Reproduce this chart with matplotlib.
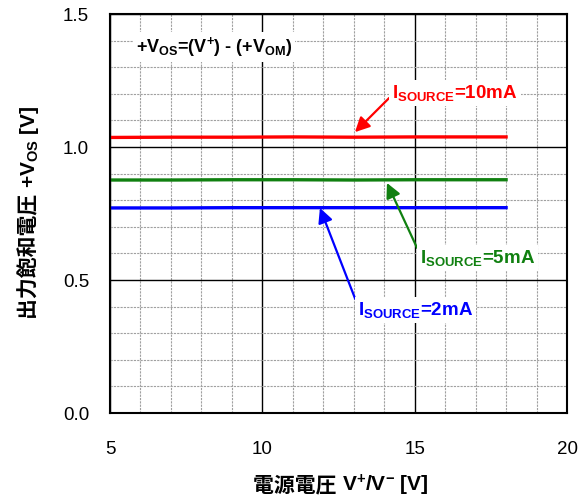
import matplotlib
matplotlib.use("Agg")
import matplotlib.pyplot as plt
from matplotlib.ticker import MultipleLocator

plt.rcParams['font.family'] = ['Liberation Sans', 'Noto Sans CJK JP', 'DejaVu Sans']
plt.rcParams['mathtext.fontset'] = 'custom'
plt.rcParams['mathtext.rm'] = 'Liberation Sans:bold'
plt.rcParams['mathtext.it'] = 'Liberation Sans:bold'
plt.rcParams['mathtext.bf'] = 'Liberation Sans:bold'

# Data
vsupply = [5, 7, 9, 11, 13, 15, 18]
vos_10mA = [1.036, 1.037, 1.037, 1.038, 1.037, 1.038, 1.038]
vos_5mA = [0.876, 0.876, 0.877, 0.877, 0.876, 0.877, 0.877]
vos_2mA = [0.771, 0.771, 0.772, 0.772, 0.772, 0.772, 0.772]

xticks = [5, 10, 15, 20]
yticks = [0.0, 0.5, 1.0, 1.5]

fig = plt.figure(figsize=(5.86, 5.01), dpi=100)
ax = fig.add_axes([0.1877, 0.1756, 0.9676 - 0.1877, 0.972 - 0.1756])

ax.set_xlim(5, 20)
ax.set_ylim(0, 1.5)
ax.set_xticks(xticks)
ax.set_yticks(yticks)
ax.set_xticklabels([str(t) for t in xticks])
ax.set_yticklabels([f"{t:.1f}" for t in yticks])
ax.xaxis.set_minor_locator(MultipleLocator(1))
ax.yaxis.set_minor_locator(MultipleLocator(0.1))
ax.grid(which='minor', color='#a0a0a0', linestyle=(0, (2, 1)), linewidth=0.8)
ax.grid(which='major', color='black', linestyle='-', linewidth=1.0)
ax.set_axisbelow(True)
ax.tick_params(which='both', length=0)
ax.tick_params(axis='x', pad=20, labelsize=13.5)
ax.tick_params(axis='y', pad=15, labelsize=13.5)
for s in ax.spines.values():
    s.set_linewidth(1.5)
    s.set_color('black')

ax.plot(vsupply, vos_10mA, color='#ff0000', lw=2.4)
ax.plot(vsupply, vos_5mA, color='#108010', lw=2.4)
ax.plot(vsupply, vos_2mA, color='#0000ff', lw=2.4)

bbox = dict(facecolor='white', edgecolor='none', pad=2)
ax.text(5.85, 1.376, r'+V$_{OS}$=(V$^{+}$) - (+V$_{OM}$)', fontsize=13,
        fontweight='bold', va='center', ha='left', bbox=bbox)

fs = 13.5
ax.annotate(r'I$_{SOURCE}$=10mA', xy=(13.04, 1.056), xytext=(14.26, 1.203),
            color='#ff0000', fontsize=fs, fontweight='bold', va='center', ha='left',
            bbox=bbox,
            arrowprops=dict(arrowstyle='-|>', color='#ff0000', lw=1.6,
                            mutation_scale=22, shrinkA=0, shrinkB=0,
                            relpos=(0.0, 0.4)))
ax.annotate(r'I$_{SOURCE}$=5mA', xy=(14.09, 0.865), xytext=(15.17, 0.583),
            color='#108010', fontsize=fs, fontweight='bold', va='center', ha='left',
            bbox=bbox,
            arrowprops=dict(arrowstyle='-|>', color='#108010', lw=1.6,
                            mutation_scale=22, shrinkA=0, shrinkB=0,
                            relpos=(0.0, 0.7)))
ax.annotate(r'I$_{SOURCE}$=2mA', xy=(11.89, 0.771), xytext=(13.14, 0.387),
            color='#0000ff', fontsize=fs, fontweight='bold', va='center', ha='left',
            bbox=bbox,
            arrowprops=dict(arrowstyle='-|>', color='#0000ff', lw=1.6,
                            mutation_scale=22, shrinkA=0, shrinkB=0,
                            relpos=(0.0, 0.7)))

# Axis labels: CJK part as plain text, the rest as mathtext, placed side by side
W, H = 586, 501
fig.canvas.draw()
r = fig.canvas.get_renderer()
lfs = 15

# x label
xl1 = fig.text(0, 0, '電源電圧 ', fontsize=lfs, fontweight='bold',
               ha='left', va='baseline')
xl2 = fig.text(0, 0, r'V$^{+}$/V$^{-}$ [V]', fontsize=lfs, fontweight='bold',
               ha='left', va='baseline')
w1 = xl1.get_window_extent(r).width
w2 = xl2.get_window_extent(r).width
cx = 341
x0 = cx - (w1 + w2) / 2
base_y = H - 491
xl1.set_position((x0 / W, base_y / H))
xl2.set_position(((x0 + w1) / W, base_y / H))

# y label
yl1 = fig.text(0, 0, '出力飽和電圧 ', fontsize=lfs, fontweight='bold',
               ha='left', va='baseline', rotation=90, rotation_mode='anchor')
yl2 = fig.text(0, 0, r'+V$_{OS}$ [V]', fontsize=lfs, fontweight='bold',
               ha='left', va='baseline', rotation=90, rotation_mode='anchor')
h1 = yl1.get_window_extent(r).height
h2 = yl2.get_window_extent(r).height
cy = H - 212
y0 = cy - (h1 + h2) / 2
base_x = 35
yl1.set_position((base_x / W, y0 / H))
yl2.set_position((base_x / W, (y0 + h1) / H))

fig.savefig('out.png', dpi=100)
